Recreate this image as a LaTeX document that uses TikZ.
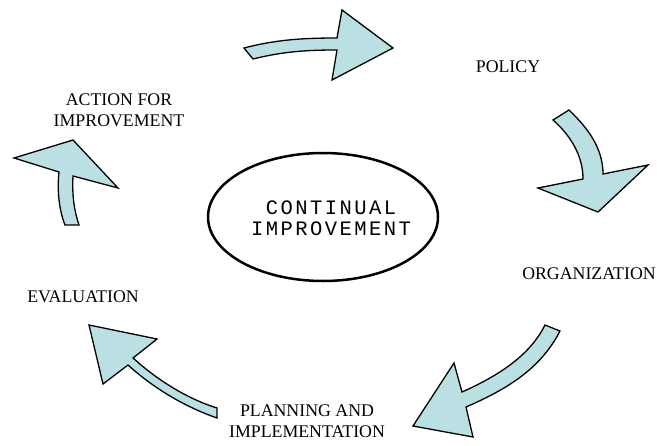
\documentclass[tikz,border=0pt]{standalone}
\usepackage{fontspec}
\setmainfont{Liberation Serif}
\newfontfamily\ellfont[LetterSpace=12]{Liberation Mono}
\usetikzlibrary{shapes.geometric}
\definecolor{arrowfill}{RGB}{186,224,227}
\tikzset{
  bigarrow/.style={draw=black,line width=1.3pt,fill=arrowfill,line join=miter},
  steplabel/.style={align=center,font=\fontsize{17.8}{20.5}\selectfont,inner sep=0pt}
}
\begin{document}
\begin{tikzpicture}[x=1pt,y=-1pt]
\useasboundingbox (0,0) rectangle (661,445);

% centre
\node[draw,ellipse,line width=2.5pt,minimum width=230,minimum height=128,inner sep=0pt] (cont) at (323,217) {};
\node[align=center,inner sep=0pt,font=\ellfont\fontsize{20.5}{20.5}\selectfont] (conttext) at (331,218) {CONTINUAL\\IMPROVEMENT};

% labels
\node[steplabel] (policy) at (508,67) {POLICY};
\node[steplabel] (org) at (589,274) {ORGANIZATION};
\node[steplabel] (plan) at (307,421) {PLANNING AND\\IMPLEMENTATION};
\node[steplabel] (eval) at (83,297) {EVALUATION};
\node[steplabel] (action) at (119,110) {ACTION FOR\\IMPROVEMENT};

% arrow to policy
\draw[bigarrow] (244,48) -- (253,59) .. controls (285,51) and (310,50) .. (337,50)
    -- (332,80) -- (393,48) -- (342,10) -- (337,38)
    .. controls (300,38) and (275,40) .. (244,48) -- cycle;

% arrow to organization
\draw[bigarrow] (553,120) -- (569,110) .. controls (590,130) and (603,150) .. (603,174)
    -- (648,165) -- (598,212) -- (538,188) -- (583,179)
    .. controls (583,155) and (570,135) .. (553,120) -- cycle;

% arrow to planning
\draw[bigarrow] (545,325) -- (560,331) .. controls (540,370) and (505,390) .. (466,407)
    -- (473,437) -- (413,426) -- (454,363) -- (462,392)
    .. controls (500,375) and (530,355) .. (545,325) -- cycle;

% arrow to evaluation
\draw[bigarrow] (217,408) -- (217,418) .. controls (180,405) and (150,385) .. (128,365)
    -- (103,384) -- (89,325) -- (157,339) -- (133,358)
    .. controls (155,378) and (185,398) .. (217,408) -- cycle;

% arrow to action
\draw[bigarrow] (65,225) -- (79,225) .. controls (74,210) and (72,195) .. (73,176)
    -- (118,188) -- (73,140) -- (14,158) -- (59,172)
    .. controls (57,190) and (59,210) .. (65,225) -- cycle;
\end{tikzpicture}
\end{document}
